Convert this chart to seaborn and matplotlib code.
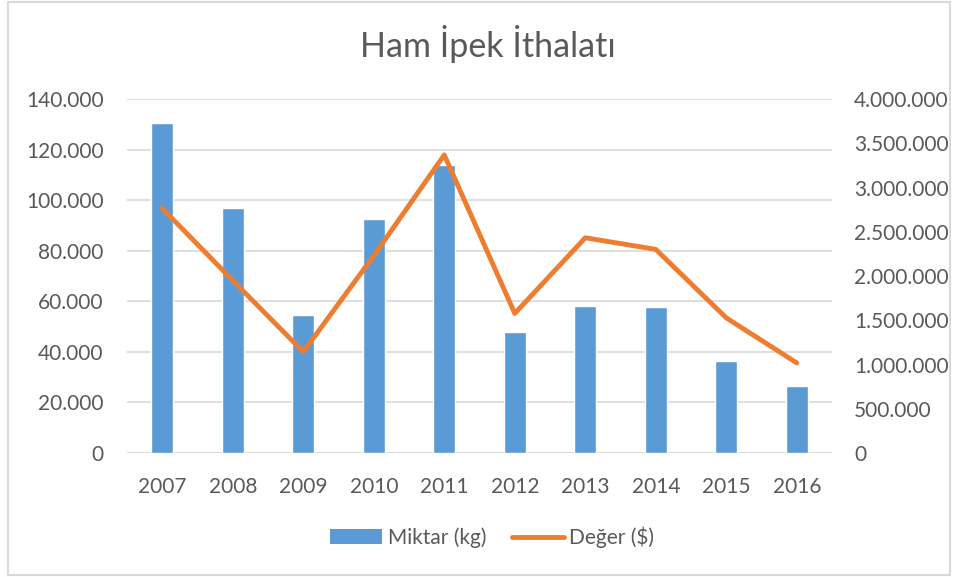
"""Ham ipek ithalati: miktar (bar) ve deger (line), two y axes."""
import matplotlib.pyplot as plt
import matplotlib.ticker as mticker
from matplotlib.patches import Patch, Rectangle
from matplotlib.lines import Line2D
import pandas as pd
import seaborn as sns

years = ['2007', '2008', '2009', '2010', '2011', '2012', '2013', '2014', '2015', '2016']
miktar_kg = [130500, 96800, 54500, 92500, 114000, 47800, 58200, 57800, 36400, 26400]
deger_usd = [2764000, 1950000, 1143000, 2230000, 3368000, 1577000, 2432000, 2301000, 1527000, 1018000]

df = pd.DataFrame({'Yil': years, 'Miktar': miktar_kg, 'Deger': deger_usd})

sns.set_theme(style='white')
plt.rcParams['font.family'] = ['Lato', 'DejaVu Sans']

BLUE = '#5B9BD5'
ORANGE = '#ED7D31'
GRID = '#D9D9D9'
TEXT = '#595959'


def tr_fmt(v, pos=None):
    # Turkish style thousands separator
    return f"{int(round(v)):,}".replace(',', '.')


fig = plt.figure(figsize=(9.58, 5.77), dpi=100)
ax = fig.add_axes([0.1326, 0.2149, 0.7359, 0.6135])

sns.barplot(data=df, x='Yil', y='Miktar', color=BLUE, width=0.31,
            saturation=1, ax=ax, zorder=2)
ax.set_ylim(0, 140000)
ax.set_xlim(-0.5, len(years) - 0.5)
ax.yaxis.set_major_locator(mticker.MultipleLocator(20000))
ax.yaxis.set_major_formatter(mticker.FuncFormatter(tr_fmt))
ax.grid(axis='y', color=GRID, linewidth=1.2, zorder=0)
ax.set_axisbelow(True)
ax.set_xlabel('')
ax.set_ylabel('')
for s in ax.spines.values():
    s.set_visible(False)
ax.axhline(0, color=GRID, linewidth=1.2, zorder=1)

ax2 = ax.twinx()
sns.pointplot(data=df, x='Yil', y='Deger', color=ORANGE, marker='',
              linewidth=3.5, ax=ax2)
ax2.set_ylim(0, 4000000)
ax2.set_xlim(-0.5, len(years) - 0.5)
ax2.yaxis.set_major_locator(mticker.MultipleLocator(500000))
ax2.yaxis.set_major_formatter(mticker.FuncFormatter(tr_fmt))
ax2.set_ylabel('')
ax2.set_xlabel('')
for s in ax2.spines.values():
    s.set_visible(False)

ax.tick_params(axis='y', length=0, pad=17, labelsize=15, labelcolor=TEXT)
ax.tick_params(axis='x', length=0, pad=17, labelsize=15, labelcolor=TEXT)
ax2.tick_params(axis='y', length=0, pad=16, labelsize=15, labelcolor=TEXT)

fig.text(0.509, 0.924, 'Ham İpek İthalatı', ha='center', va='center',
         fontsize=24.5, color=TEXT)

handles = [Patch(facecolor=BLUE, edgecolor='none'),
           Line2D([0], [0], color=ORANGE, linewidth=3.5, solid_capstyle='round')]
fig.legend(handles, ['Miktar (kg)', 'Değer ($)'], loc='center',
           bbox_to_anchor=(0.514, 0.069), ncol=2, frameon=False, fontsize=15,
           labelcolor=TEXT, handlelength=2.5, handletextpad=0.25, columnspacing=1.25)

# light outer border like the chart area frame
fig.patches.append(Rectangle((0.008, 0.003), 0.984, 0.994, transform=fig.transFigure,
                             fill=False, edgecolor=GRID, linewidth=1.5))

fig.savefig('out.png', dpi=100)
